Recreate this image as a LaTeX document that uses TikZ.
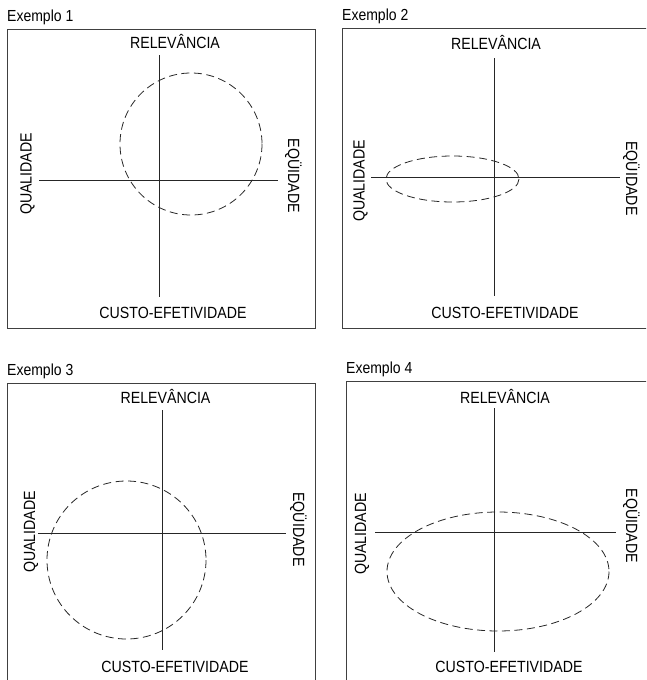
\documentclass[tikz,border=0pt]{standalone}
\usepackage{fontspec}
\setmainfont{Liberation Sans}
\newfontfamily\narrowsans[FakeStretch=0.875]{Liberation Sans}
\begin{document}
\begin{tikzpicture}[x=1pt,y=-1pt,
  frame/.style={draw=black!75,line width=0.9pt},
  axis/.style={draw=black!85,line width=0.9pt},
  region/.style={draw=black!85,line width=0.8pt,dash pattern=on 8pt off 4.5pt},
  title/.style={font=\narrowsans\fontsize{16}{18}\selectfont,anchor=base west,inner sep=0pt},
  lbl/.style={font=\narrowsans\fontsize{16.2}{18}\selectfont,anchor=base,inner sep=0pt},
  up/.style={lbl,rotate=90},
  down/.style={lbl,rotate=-90}]
\useasboundingbox (0,0) rectangle (646,680);
\clip (0,0) rectangle (646,680);

% ---- Exemplo 1 ----
\node[title] (t1) at (7,21.5) {Exemplo 1};
\draw[frame] (7,29) rectangle (315,328);
\coordinate (n1) at (159,55);  \coordinate (s1) at (159,297);
\coordinate (w1) at (39,180);  \coordinate (e1) at (278,180);
\draw[axis] (n1) -- (s1);
\draw[axis] (w1) -- (e1);
\draw[region] (191,144) ellipse [x radius=71, y radius=71];
\node[lbl] (r1) at (175,48.5) {RELEVÂNCIA};
\node[lbl] (c1) at (173,318) {CUSTO-EFETIVIDADE};
\node[up] (q1) at (31.7,174) {QUALIDADE};
\node[down] (q1e) at (288,176) {EQÜIDADE};

% ---- Exemplo 2 ----
\node[title] (t2) at (342,20) {Exemplo 2};
\draw[frame] (650,28) -- (342,28) -- (342,328) -- (650,328);
\coordinate (n2) at (494,58);  \coordinate (s2) at (494,296);
\coordinate (w2) at (371,177); \coordinate (e2) at (620,177);
\draw[axis] (n2) -- (s2);
\draw[axis] (w2) -- (e2);
\draw[region] (452.5,179) ellipse [x radius=66.5, y radius=23];
\node[lbl] (r2) at (496,49) {RELEVÂNCIA};
\node[lbl] (c2) at (505,318) {CUSTO-EFETIVIDADE};
\node[up] (q2) at (364.7,181) {QUALIDADE};
\node[down] (q2e) at (626,178.5) {EQÜIDADE};

% ---- Exemplo 3 ----
\node[title] (t3) at (7,375) {Exemplo 3};
\draw[frame] (7,690) -- (7,383) -- (315,383) -- (315,690);
\coordinate (n3) at (162,410); \coordinate (s3) at (162,650);
\coordinate (w3) at (38,533);  \coordinate (e3) at (286,533);
\draw[axis] (n3) -- (s3);
\draw[axis] (w3) -- (e3);
\draw[region] (126.5,560) ellipse [x radius=79.5, y radius=79];
\node[lbl] (r3) at (165.5,403) {RELEVÂNCIA};
\node[lbl] (c3) at (175,672) {CUSTO-EFETIVIDADE};
\node[up] (q3) at (35,532) {QUALIDADE};
\node[down] (q3e) at (293,529.5) {EQÜIDADE};

% ---- Exemplo 4 ----
\node[title] (t4) at (346,373) {Exemplo 4};
\draw[frame] (346,690) -- (346,381) -- (650,381);
\coordinate (n4) at (494,408); \coordinate (s4) at (494,652);
\coordinate (w4) at (375,532); \coordinate (e4) at (616,532);
\draw[axis] (n4) -- (s4);
\draw[axis] (w4) -- (e4);
\draw[region] (498,571.5) ellipse [x radius=111, y radius=59.5];
\node[lbl] (r4) at (505,403) {RELEVÂNCIA};
\node[lbl] (c4) at (509,672) {CUSTO-EFETIVIDADE};
\node[up] (q4) at (366,534) {QUALIDADE};
\node[down] (q4e) at (626,526) {EQÜIDADE};
\end{tikzpicture}
\end{document}
